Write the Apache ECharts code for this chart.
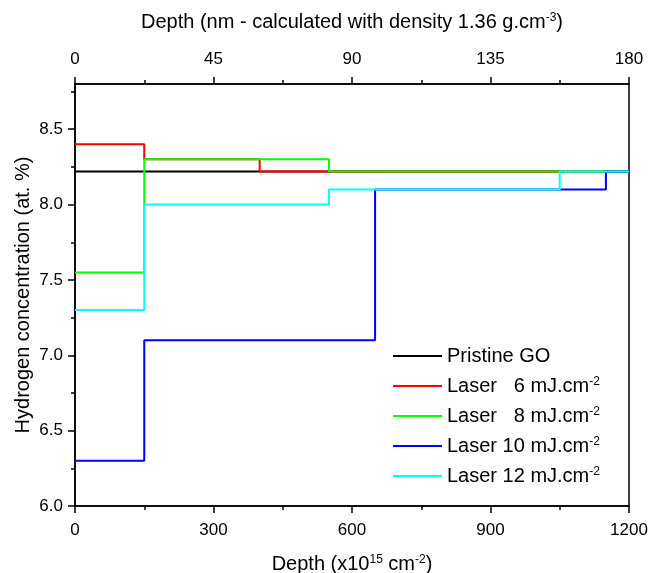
<!DOCTYPE html>
<html>
<head>
<meta charset="utf-8">
<script src="https://cdn.jsdelivr.net/npm/echarts@6/dist/echarts.min.js"></script>
<style>
  html, body { margin: 0; padding: 0; background: #fff; }
  #main { width: 649px; height: 573px; }
</style>
</head>
<body>
<div id="main"></div>
<script>
// series names
var names = ['Pristine GO', 'Laser   6 mJ.cm{sup|-2}', 'Laser   8 mJ.cm{sup|-2}', 'Laser 10 mJ.cm{sup|-2}', 'Laser 12 mJ.cm{sup|-2}'];
var colors = ['#000000', '#ff0000', '#00ff00', '#0000ff', '#00ffff'];

// depth (x10^15 cm-2) where each step starts, and hydrogen conc. (at. %)
var depthGO = [0, 1200];
var concGO = [8.22, 8.22];
var depth6 = [0, 150, 400, 1200];
var conc6 = [8.4, 8.3, 8.22, 8.22];
var depth8 = [0, 150, 550, 1200];
var conc8 = [7.55, 8.3, 8.22, 8.22];
var depth10 = [0, 150, 650, 1150, 1200];
var conc10 = [6.3, 7.1, 8.1, 8.22, 8.22];
var depth12 = [0, 150, 550, 1050, 1200];
var conc12 = [7.3, 8.0, 8.1, 8.22, 8.22];

// tick values
var yMajor = [6.0, 6.5, 7.0, 7.5, 8.0, 8.5];
var yMinor = [6.25, 6.75, 7.25, 7.75, 8.25, 8.75];

var depths = [depthGO, depth6, depth8, depth10, depth12];
var concs = [concGO, conc6, conc8, conc10, conc12];

var font = 'Liberation Sans, Arial, sans-serif';
var sup = { fontSize: 12, verticalAlign: 'top', lineHeight: 12, fontFamily: font, color: '#000' };

function pairs(xs, ys) {
  var out = [];
  for (var i = 0; i < xs.length; i++) out.push([xs[i], ys[i]]);
  return out;
}

var series = [];
for (var i = 0; i < names.length; i++) {
  series.push({
    name: names[i],
    type: 'line',
    step: 'end',
    xAxisIndex: 0,
    yAxisIndex: 0,
    showSymbol: false,
    symbol: 'none',
    color: colors[i],
    lineStyle: { width: 2, color: colors[i] },
    data: pairs(depths[i], concs[i])
  });
}

var axisBase = {
  axisLine: { show: true, onZero: false, lineStyle: { color: '#000', width: 1.5 } },
  axisTick: { show: true, inside: false, length: 7, lineStyle: { color: '#000', width: 1.5 } },
  minorTick: { show: true, splitNumber: 2, length: 4, lineStyle: { color: '#000', width: 1.5 } },
  splitLine: { show: false },
  axisLabel: { color: '#000', fontSize: 17, fontFamily: font, margin: 14 }
};

function clone(o) { return JSON.parse(JSON.stringify(o)); }

var xBottom = clone(axisBase);
xBottom.type = 'value';
xBottom.position = 'bottom';
xBottom.min = 0; xBottom.max = 1200; xBottom.interval = 300;
xBottom.axisLabel.margin = 16;
xBottom.axisLabel.formatter = function (v) { return String(v); };
xBottom.name = 'Depth (x10{sup|15} cm{sup|-2})';
xBottom.nameLocation = 'middle';
xBottom.nameGap = 48;
xBottom.nameMoveOverlap = false;
xBottom.nameTextStyle = { fontSize: 20, fontFamily: font, color: '#000', lineHeight: 20, rich: { sup: sup } };

var xTop = clone(axisBase);
xTop.type = 'value';
xTop.position = 'top';
xTop.min = 0; xTop.max = 180; xTop.interval = 45;
xTop.axisLabel.margin = 16;
xTop.axisLabel.formatter = function (v) { return String(v); };
xTop.name = 'Depth (nm - calculated with density 1.36 g.cm{sup|-3})';
xTop.nameLocation = 'middle';
xTop.nameGap = 52;
xTop.nameMoveOverlap = false;
xTop.nameTextStyle = { fontSize: 20, fontFamily: font, color: '#000', lineHeight: 20, rich: { sup: sup } };

var yLeft = clone(axisBase);
yLeft.type = 'value';
yLeft.position = 'left';
yLeft.min = 6.0; yLeft.max = 8.8; yLeft.interval = 0.5;
yLeft.minorTick = { show: false };
yLeft.axisTick.customValues = yMajor;
yLeft.axisLabel.customValues = yMajor;
yLeft.axisLabel.margin = 12;
yLeft.axisLabel.formatter = function (v) { return v.toFixed(1); };
yLeft.name = 'Hydrogen concentration (at. %)';
yLeft.nameLocation = 'middle';
yLeft.nameGap = 42;
yLeft.nameMoveOverlap = false;
yLeft.nameTextStyle = { fontSize: 20, fontFamily: font, color: '#000' };

// second left axis, only for the short minor ticks
var yLeftMinor = {
  type: 'value',
  position: 'left',
  min: 6.0, max: 8.8,
  axisLine: { show: false },
  axisTick: { show: true, length: 4, customValues: yMinor, lineStyle: { color: '#000', width: 1.5 } },
  axisLabel: { show: false },
  splitLine: { show: false }
};

var myChart = echarts.init(document.getElementById('main'));
myChart.setOption({
  animation: false,
  backgroundColor: '#fff',
  textStyle: { fontFamily: font },
  grid: {
    left: 75, right: 20, top: 84, bottom: 67,
    outerBoundsMode: 'none',
    containLabel: false,
    show: true, borderColor: '#000', borderWidth: 1.5, backgroundColor: 'transparent'
  },
  legend: {
    orient: 'vertical',
    left: 393,
    top: 346,
    padding: 0,
    icon: 'rect',
    itemWidth: 49,
    itemHeight: 2,
    itemGap: 10,
    selectedMode: false,
    textStyle: { fontSize: 20, color: '#000', fontFamily: font, lineHeight: 20, rich: { sup: sup } },
    data: names
  },
  xAxis: [xBottom, xTop],
  yAxis: [yLeft, yLeftMinor],
  series: series
});
</script>
</body>
</html>
